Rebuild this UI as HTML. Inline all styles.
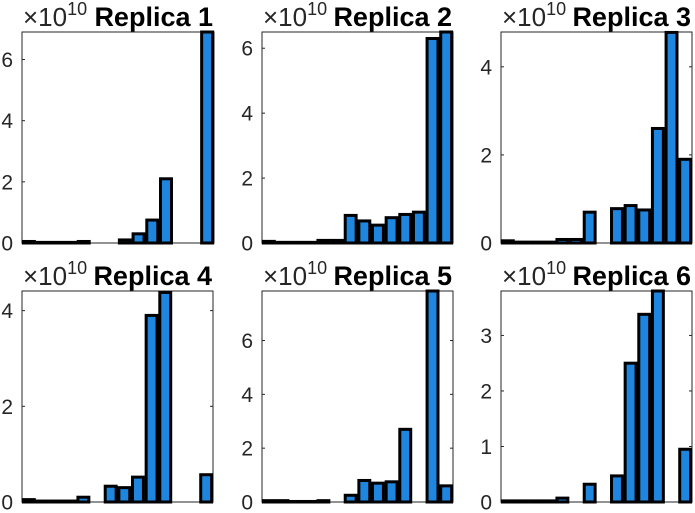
<!DOCTYPE html>
<html><head><meta charset="utf-8"><style>
html,body{margin:0;padding:0;background:#fff;width:695px;height:513px;overflow:hidden}
svg{display:block;font-family:"Liberation Sans",Arial,sans-serif}
</style></head><body>
<svg id="fig" width="695" height="513"></svg>
<script>
const categories=[1,2,3,4,5,6,7,8,9,10,11,12,13,14];
const titles=["Replica 1","Replica 2","Replica 3","Replica 4","Replica 5","Replica 6"];
const values1=[0.05,0.02,0.02,0.02,0.05,0,0,0.1,0.3,0.75,2.1,0,0,6.9];
const values2=[0.05,0.02,0.02,0.02,0.08,0.08,0.85,0.68,0.55,0.78,0.88,0.95,6.3,6.5];
const values3=[0.05,0.02,0.02,0.02,0.08,0.08,0.7,0,0.78,0.85,0.75,2.6,4.78,1.9];
const values4=[0.05,0.02,0.02,0.02,0.1,0,0.33,0.3,0.52,3.9,4.38,0,0,0.57];
const values5=[0.05,0.05,0.02,0.02,0.05,0,0.25,0.8,0.7,0.75,2.7,0,7.84,0.6];
const values6=[0.02,0.02,0.02,0.02,0.07,0,0.32,0,0.47,2.5,3.38,3.8,0,0.95];
const yMax=[6.9,6.5,4.79,4.41,7.84,3.8];
const ticks1=[0,2,4,6],ticks2=[0,2,4,6],ticks3=[0,2,4],ticks4=[0,2,4],ticks5=[0,2,4,6],ticks6=[0,1,2,3];
const allValues=[values1,values2,values3,values4,values5,values6];
const allTicks=[ticks1,ticks2,ticks3,ticks4,ticks5,ticks6];
const boxes=[[22,214,32,243],[262,453,32,243],[501,692,32,243],[22,213,291,502],[262,453,291,502],[501,692,291,502]];
const NS="http://www.w3.org/2000/svg";
const fig=document.getElementById('fig');
function mk(tag,attrs,parent){const e=document.createElementNS(NS,tag);for(const k in attrs)e.setAttribute(k,attrs[k]);parent.appendChild(e);return e;}
boxes.forEach((b,p)=>{
  const [L,R,T,B]=b;
  const g=mk('g',{},fig);
  
  
  const xs=c=>L+(c-0.5)/categories.length*(R-L);
  const ys=v=>B-v/yMax[p]*(B-T);
  const slot=(R-L)/categories.length;
  const bg=mk('rect',{x:L,y:T,width:R-L,height:B-T,fill:'#fff'},g);
  
  
  allTicks[p].forEach(t=>{
    const y=ys(t);
    mk('line',{x1:L,x2:L+3,y1:y,y2:y,stroke:'#262626','stroke-width':1},g);
    mk('line',{x1:R,x2:R-3,y1:y,y2:y,stroke:'#262626','stroke-width':1},g);
    const tx=mk('text',{x:L-9,y:y+7.5,'text-anchor':'end','font-size':21,fill:'#262626'},g);
    tx.textContent=t;
    
    
  });
  const box=mk('rect',{x:L,y:T,width:R-L,height:B-T,fill:'none',stroke:'#262626','stroke-width':1},g);
  
  
  allValues[p].forEach((v,i)=>{
    if(v<=0)return;
    const c=categories[i];
    const w=slot*0.8;
    const y=ys(v);
    const r=mk('rect',{x:xs(c)-w/2,y:y,width:w,height:B-y,fill:'#1f86e0',stroke:'#000','stroke-width':3},g);
    
    
  });
  const ex=mk('text',{x:L+1,y:T-6,'font-size':26,fill:'#262626'},g);
  ex.textContent='\u00d710';
  
  
  const sup=mk('tspan',{'font-size':18,dy:-11},ex);
  sup.textContent='10';
  const ti=mk('text',{x:R-1,y:T-6,'text-anchor':'end','font-size':27,'font-weight':'bold',fill:'#000'},g);
  ti.textContent=titles[p];
  
  
});
</script>
</body></html>
